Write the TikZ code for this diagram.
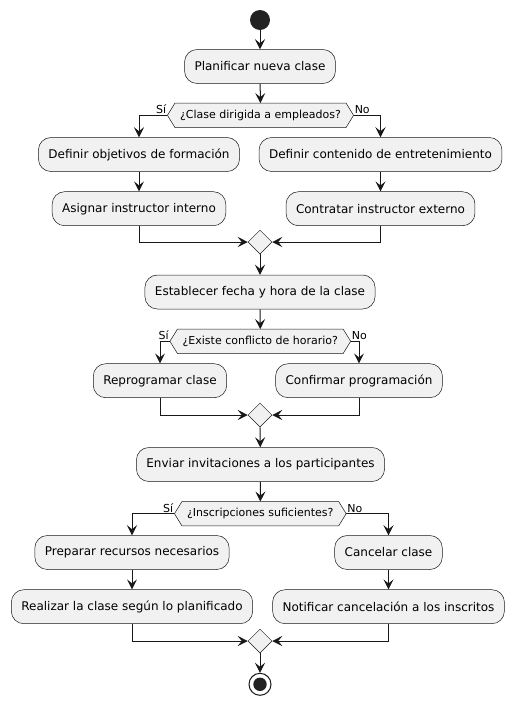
\documentclass[tikz,border=0pt]{standalone}
\usepackage{fontspec}
\setmainfont{DejaVu Sans}
\usetikzlibrary{arrows.meta,shapes.geometric,backgrounds}
\definecolor{lc}{HTML}{181818}
\definecolor{bf}{HTML}{F1F1F1}
\definecolor{dk}{HTML}{222222}
\begin{document}
\begin{tikzpicture}[x=1pt,y=-1pt,
  act/.style={draw=lc,fill=bf,line width=0.5pt,rounded corners=12.5pt,minimum height=34pt,inner xsep=10pt,inner ysep=0pt,font=\fontsize{12}{14}\selectfont},
  dec/.style={inner ysep=0pt,inner xsep=12.5pt,minimum height=24pt,font=\fontsize{11}{13}\selectfont},
  hex/.style={draw=lc,fill=bf,line width=0.5pt},
  merge/.style={diamond,draw=lc,fill=bf,line width=0.5pt,minimum width=24pt,minimum height=24pt,inner sep=0pt},
  flow/.style={draw=lc,line width=1pt,-{Stealth[length=10pt,width=10pt,inset=4pt]}},
  lbl/.style={font=\fontsize{11}{13}\selectfont,inner sep=1pt}]
\useasboundingbox (0,0) rectangle (514,705);

% nodes
\node[circle,fill=dk,minimum size=20pt,inner sep=0pt] (st) at (260,20) {};
\node[act] (a1) at (260,66.5) {Planificar nueva clase};
\node[dec] (q1) at (260.5,115.3) {¿Clase dirigida a empleados?};
\node[act] (b1) at (139,154.5) {Definir objetivos de formación};
\node[act] (c1) at (380.5,154.5) {Definir contenido de entretenimiento};
\node[act] (b2) at (139,208.7) {Asignar instructor interno};
\node[act] (c2) at (380.5,208.7) {Contratar instructor externo};
\node[merge] (m1) at (260,242) {};
\node[act] (a2) at (260,292) {Establecer fecha y hora de la clase};
\node[dec] (q2) at (260.3,341.3) {¿Existe conflicto de horario?};
\node[act] (r1) at (160,380.7) {Reprogramar clase};
\node[act] (r2) at (359,380.7) {Confirmar programación};
\node[merge] (m2) at (260,415) {};
\node[act] (a3) at (260.5,464.5) {Enviar invitaciones a los participantes};
\node[dec] (q3) at (260.3,513.7) {¿Inscripciones suficientes?};
\node[act] (p1) at (132,552.5) {Preparar recursos necesarios};
\node[act] (n1) at (388.5,552.5) {Cancelar clase};
\node[act] (p2) at (132,606.7) {Realizar la clase según lo planificado};
\node[act] (n2) at (388.5,606.7) {Notificar cancelación a los inscritos};
\node[merge] (m3) at (260,641) {};
\node[circle,draw=lc,line width=1pt,fill=white,minimum size=22pt,inner sep=0pt] (en) at (260,684.3) {};
\fill[dk] (en.center) circle (6.7pt);

% background and hexagons
\begin{scope}[on background layer]
\fill[white] (0,0) rectangle (514,705);
\foreach \q in {q1,q2,q3}{
  \draw[hex] (\q.west) -- ([xshift=7.5pt]\q.north west) -- ([xshift=-7.5pt]\q.north east) -- (\q.east) -- ([xshift=-7.5pt]\q.south east) -- ([xshift=7.5pt]\q.south west) -- cycle;
}
\end{scope}

% labels
\node[lbl,anchor=south east] (l1s) at (q1.west) {Sí};
\node[lbl,anchor=south west] (l1n) at (q1.east) {No};
\node[lbl,anchor=south east] (l2s) at (q2.west) {Sí};
\node[lbl,anchor=south west] (l2n) at (q2.east) {No};
\node[lbl,anchor=south east] (l3s) at (q3.west) {Sí};
\node[lbl,anchor=south west] (l3n) at (q3.east) {No};

% connectors
\draw[flow] (st) -- (a1);
\draw[flow] (a1) -- (q1);
\draw[flow] (q1.west) -| (b1.north);
\draw[flow] (q1.east) -| (c1.north);
\draw[flow] (b1) -- (b2);
\draw[flow] (c1) -- (c2);
\draw[flow] (b2.south) |- (m1.west);
\draw[flow] (c2.south) |- (m1.east);
\draw[flow] (m1.south) -- (a2);
\draw[flow] (a2) -- (q2);
\draw[flow] (q2.west) -| (r1.north);
\draw[flow] (q2.east) -| (r2.north);
\draw[flow] (r1.south) |- (m2.west);
\draw[flow] (r2.south) |- (m2.east);
\draw[flow] (m2.south) -- (a3);
\draw[flow] (a3) -- (q3);
\draw[flow] (q3.west) -| (p1.north);
\draw[flow] (q3.east) -| (n1.north);
\draw[flow] (p1) -- (p2);
\draw[flow] (n1) -- (n2);
\draw[flow] (p2.south) |- (m3.west);
\draw[flow] (n2.south) |- (m3.east);
\draw[flow] (m3.south) -- (en);
\end{tikzpicture}
\end{document}
